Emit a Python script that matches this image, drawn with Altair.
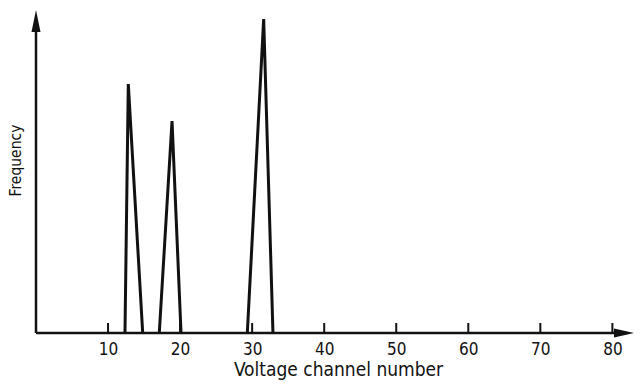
import altair as alt
import pandas as pd

# Peak outlines (channel, frequency) — three triangular peaks
peak_ids = ["A", "A", "A", "B", "B", "B", "C", "C", "C"]
channels = [12.35, 12.81, 14.81, 17.11, 18.88, 20.13, 29.33, 31.6, 32.89]
frequencies = [0, 77.1, 0, 0, 65.6, 0, 0, 97.2, 0]

tick_values = [10, 20, 30, 40, 50, 60, 70, 80]

X_MAX = 83
Y_MAX = 100
W, H = 598, 323
INK = "#111111"
FONT = "DejaVu Sans Condensed, Liberation Sans Narrow, DejaVu Sans"

xs = alt.Scale(domain=[0, X_MAX], nice=False, zero=False)
ys = alt.Scale(domain=[0, Y_MAX], nice=False, zero=False)

peaks_df = pd.DataFrame({"peak": peak_ids, "channel": channels, "frequency": frequencies})
ticks_df = pd.DataFrame({"channel": tick_values})

x_axis = alt.Axis(
    values=tick_values, grid=False, domain=False, ticks=False, tickSize=0,
    labelFontSize=17, labelFont=FONT, labelColor=INK, labelPadding=8,
    title="Voltage channel number", titleFontSize=19, titleFont=FONT,
    titleColor=INK, titleFontWeight="normal", titleBaseline="top", titleY=27,
    titleX=302,
)
y_axis = alt.Axis(
    labels=False, grid=False, domain=False, ticks=False, tickSize=0,
    title="Frequency", titleFontSize=15.5, titleFont=FONT, titleColor=INK,
    titleFontWeight="normal", titleX=-13, titleY=150,
)

xline = alt.Chart(pd.DataFrame({"x0": [0], "x1": [X_MAX - 1], "y0": [0]})).mark_rule(
    color=INK, strokeWidth=2.5
).encode(
    x=alt.X("x0:Q", scale=xs, axis=x_axis),
    x2="x1:Q",
    y=alt.Y("y0:Q", scale=ys, axis=y_axis),
)

yline = alt.Chart(pd.DataFrame({"x0": [0], "y0": [0], "y1": [96]})).mark_rule(
    color=INK, strokeWidth=2.5
).encode(
    x=alt.X("x0:Q", scale=xs),
    y=alt.Y("y0:Q", scale=ys),
    y2="y1:Q",
)

ticks = alt.Chart(ticks_df).mark_rule(color=INK, strokeWidth=2).encode(
    x=alt.X("channel:Q", scale=xs),
    y=alt.value(H),
    y2=alt.value(H - 10),
)

arrow_up = alt.Chart(pd.DataFrame({"x": [0], "y": [Y_MAX]})).mark_point(
    shape="M0,0L0.41,2L-0.41,2Z", size=484, filled=True, color=INK, opacity=1
).encode(x=alt.X("x:Q", scale=xs), y=alt.Y("y:Q", scale=ys))

arrow_right = alt.Chart(pd.DataFrame({"x": [X_MAX], "y": [0]})).mark_point(
    shape="M0,0L-2,-0.45L-2,0.45Z", size=400, filled=True, color=INK, opacity=1
).encode(x=alt.X("x:Q", scale=xs), y=alt.Y("y:Q", scale=ys))

peaks = alt.Chart(peaks_df).mark_line(color=INK, strokeWidth=3).encode(
    x=alt.X("channel:Q", scale=xs),
    y=alt.Y("frequency:Q", scale=ys),
    detail="peak:N",
    order="channel:Q",
)

chart = alt.layer(xline, yline, ticks, peaks, arrow_up, arrow_right).properties(
    width=W, height=H,
    autosize=alt.AutoSizeParams(type="none"),
    padding={"left": 28, "top": 2, "right": 0, "bottom": 47},
    background="white",
).configure_view(stroke=None)

chart.save("out.html", embed_options={"renderer": "svg", "actions": False})
